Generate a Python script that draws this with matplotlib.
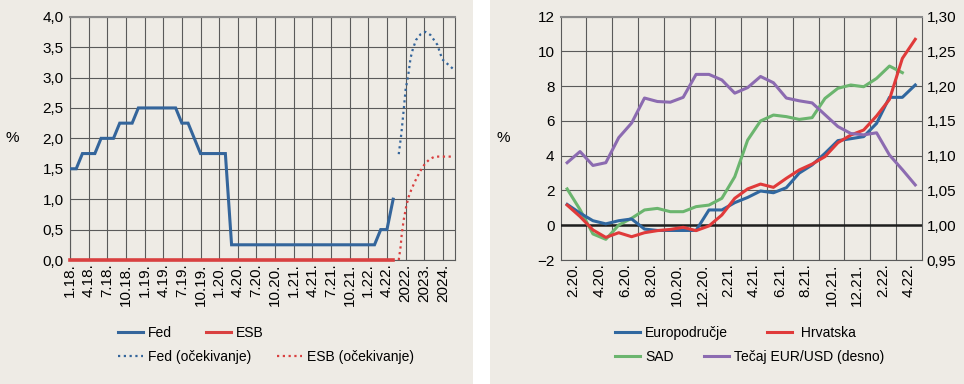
import matplotlib
matplotlib.use('Agg')
import matplotlib.pyplot as plt
from matplotlib.lines import Line2D
from matplotlib.patches import Rectangle
from matplotlib.ticker import FixedLocator, FuncFormatter

plt.rcParams['font.family'] = ['Liberation Sans', 'DejaVu Sans']

# ---------------- Left panel data (monthly, 1.18. - 5.22.) ----------------
left_tick_labels = ['1.18.', '4.18.', '7.18.', '10.18.', '1.19.', '4.19.', '7.19.', '10.19.',
                    '1.20.', '4.20.', '7.20.', '10.20.', '1.21.', '4.21.', '7.21.', '10.21.',
                    '1.22.', '4.22.', '2022.', '2023.', '2024.']
fed = [1.5, 1.5, 1.75, 1.75, 1.75, 2.0, 2.0, 2.0, 2.25, 2.25, 2.25,
       2.5, 2.5, 2.5, 2.5, 2.5, 2.5, 2.5, 2.25, 2.25, 2.0,
       1.75, 1.75, 1.75, 1.75, 1.75,
       0.25, 0.25, 0.25, 0.25, 0.25, 0.25, 0.25, 0.25, 0.25, 0.25, 0.25, 0.25,
       0.25, 0.25, 0.25, 0.25, 0.25, 0.25, 0.25, 0.25, 0.25, 0.25, 0.25, 0.25,
       0.5, 0.5, 1.0]
esb = [0.0, 0.0, 0.0, 0.0, 0.0, 0.0, 0.0, 0.0, 0.0, 0.0, 0.0, 0.0, 0.0, 0.0,
       0.0, 0.0, 0.0, 0.0, 0.0, 0.0, 0.0, 0.0, 0.0, 0.0, 0.0, 0.0, 0.0, 0.0,
       0.0, 0.0, 0.0, 0.0, 0.0, 0.0, 0.0, 0.0, 0.0, 0.0, 0.0, 0.0, 0.0, 0.0,
       0.0, 0.0, 0.0, 0.0, 0.0, 0.0, 0.0, 0.0, 0.0, 0.0, 0.0]
# expectations (position on the same month axis)
fed_exp_x = [52.9, 53.3, 53.7, 54.0, 54.4, 54.8, 55.2, 55.7, 56.4, 57.2, 58.0, 59.1, 59.9, 61.0, 62.0]
fed_exp = [1.74, 2.06, 2.47, 2.80, 3.02, 3.32, 3.48, 3.62, 3.71, 3.75, 3.70, 3.54, 3.30, 3.20, 3.11]
esb_exp_x = [52.9, 53.2, 53.4, 53.7, 54.1, 54.5, 54.9, 55.5, 56.3, 57.1, 57.9, 58.7, 61.4]
esb_exp = [0.0, 0.22, 0.44, 0.66, 0.88, 1.04, 1.15, 1.29, 1.45, 1.58, 1.66, 1.70, 1.70]

# ---------------- Right panel data (monthly) ----------------
right_tick_labels = ['2.20.', '4.20.', '6.20.', '8.20.', '10.20.', '12.20.', '2.21.',
                     '4.21.', '6.21.', '8.21.', '10.21.', '12.21.', '2.22.', '4.22.']
euro = [1.2, 0.7, 0.26, 0.08, 0.26, 0.36, -0.22, -0.3, -0.3, -0.3, -0.3, 0.88, 0.88, 1.3,
        1.6, 1.97, 1.87, 2.16, 3.0, 3.47, 4.14, 4.87, 4.98, 5.1, 5.86, 7.36, 7.36, 8.07]
hr = [1.16, 0.5, -0.27, -0.7, -0.43, -0.66, -0.43, -0.31, -0.24, -0.12, -0.31, -0.04, 0.59, 1.55,
      2.09, 2.37, 2.18, 2.7, 3.18, 3.52, 3.95, 4.75, 5.19, 5.48, 6.29, 7.24, 9.6, 10.7]
sad = [2.09, 0.9, -0.5, -0.81, 0.01, 0.4, 0.88, 0.97, 0.78, 0.78, 1.07, 1.16, 1.55, 2.79,
       4.9, 6.0, 6.34, 6.25, 6.09, 6.19, 7.3, 7.88, 8.07, 7.97, 8.45, 9.16, 8.78]
eurusd = [1.090, 1.106, 1.086, 1.090, 1.126, 1.147, 1.183, 1.178, 1.177, 1.184, 1.217, 1.217,
          1.209, 1.190, 1.198, 1.214, 1.205, 1.183, 1.179, 1.176, 1.159, 1.142, 1.132, 1.130,
          1.133, 1.101, 1.080, 1.058]

# ---------------- styling ----------------
BG = '#EEEBE5'
GRID = '#5A5A5A'
C_FED = '#34659B'
C_ESB = '#D94040'
C_EA = '#30679F'
C_HR = '#E03A3A'
C_US = '#6BB56E'
C_FX = '#8C6BB1'
FS = 11
LFS = 10
LW = 2.2
DOT = (0, (1, 1.6))

W, H = 964, 384
fig = plt.figure(figsize=(W / 100, H / 100), dpi=100)
fig.patch.set_facecolor('white')
fig.patches.append(Rectangle((0, 0), 473 / W, 1, transform=fig.transFigure,
                             facecolor=BG, edgecolor='none', zorder=-10))
fig.patches.append(Rectangle((490 / W, 0), 1 - 490 / W, 1, transform=fig.transFigure,
                             facecolor=BG, edgecolor='none', zorder=-10))


def fx(px):
    return px / W


def fy(py):
    return 1 - py / H


def comma(fmt):
    return FuncFormatter(lambda v, p: (fmt % v).replace('.', ',').replace('-', '\u2212'))


def entry(x_px, y_px, handle, label):
    fig.legend(handles=[handle], labels=[label], frameon=False, fontsize=LFS,
               loc='center left', bbox_to_anchor=(fx(x_px), fy(y_px)),
               borderpad=0, borderaxespad=0, handlelength=1.8, handletextpad=0.36)


# ---------------- Left axes ----------------
axL = fig.add_axes([fx(70), fy(260), fx(455.3) - fx(70), fy(16.7) - fy(260)])
axL.set_facecolor('none')
xL = list(range(len(fed)))
axL.plot(xL, fed, color=C_FED, lw=LW, solid_joinstyle='miter', zorder=4)
axL.plot(xL, esb, color=C_ESB, lw=LW + 0.4, zorder=4, clip_on=False)
axL.plot(fed_exp_x, fed_exp, color=C_FED, lw=1.6, ls=DOT, zorder=4)
axL.plot(esb_exp_x, esb_exp, color=C_ESB, lw=1.6, ls=DOT, zorder=4, clip_on=False)
axL.set_xlim(0, 62)
axL.set_ylim(0, 4)
axL.xaxis.set_major_locator(FixedLocator([3 * i for i in range(len(left_tick_labels))]))
axL.set_xticklabels(left_tick_labels, rotation=90)
axL.yaxis.set_major_locator(FixedLocator([0.5 * i for i in range(9)]))
axL.yaxis.set_major_formatter(comma('%.1f'))
axL.grid(True, color=GRID, lw=0.8)
axL.set_axisbelow(True)
axL.tick_params(axis='both', length=0, labelsize=FS)
axL.tick_params(axis='y', pad=4.5)
axL.tick_params(axis='x', pad=2.5)
for s in axL.spines.values():
    s.set_color(GRID)
    s.set_linewidth(0.8)
axL.spines['top'].set_color('#8A8A8A')
axL.spines['top'].set_linewidth(1.5)
fig.text(fx(12), fy(138), '%', fontsize=FS, ha='center', va='center')

entry(118, 333, Line2D([], [], color=C_FED, lw=LW), 'Fed')
entry(206, 333, Line2D([], [], color=C_ESB, lw=LW), 'ESB')
entry(118, 357, Line2D([], [], color=C_FED, lw=1.6, ls=DOT), 'Fed (očekivanje)')
entry(277, 357, Line2D([], [], color=C_ESB, lw=1.6, ls=DOT), 'ESB (očekivanje)')

# ---------------- Right axes ----------------
axR = fig.add_axes([fx(560.7), fy(260), fx(921.7) - fx(560.7), fy(16.7) - fy(260)])
axR.set_facecolor('none')
xr = list(range(len(euro)))
axR.axhline(0, color='#1E1E1E', lw=1.8, zorder=3)
axR.plot(xr, euro, color=C_EA, lw=LW, zorder=5)
axR.plot(xr, hr, color=C_HR, lw=LW, zorder=6)
axR.plot(list(range(len(sad))), sad, color=C_US, lw=LW, zorder=4)
axR.set_xlim(-0.5, len(euro) - 0.5)
axR.set_ylim(-2, 12)
axR.xaxis.set_major_locator(FixedLocator([0.5 + 2 * i for i in range(len(right_tick_labels))]))
axR.set_xticklabels(right_tick_labels, rotation=90)
axR.xaxis.set_minor_locator(FixedLocator([1.5 + 2 * i for i in range(13)]))
axR.yaxis.set_major_locator(FixedLocator([-2 + 2 * i for i in range(8)]))
axR.yaxis.set_major_formatter(comma('%d'))
axR.grid(False, axis='x', which='major')
axR.grid(True, axis='x', which='minor', color=GRID, lw=0.8)
axR.grid(True, axis='y', which='major', color=GRID, lw=0.8)
axR.set_axisbelow(True)
axR.tick_params(axis='both', which='both', length=0, labelsize=FS)
axR.tick_params(axis='y', pad=4.5)
axR.tick_params(axis='x', pad=2.5)
for s in axR.spines.values():
    s.set_color(GRID)
    s.set_linewidth(0.8)
axR.spines['top'].set_color('#8A8A8A')
axR.spines['top'].set_linewidth(1.5)

axR2 = axR.twinx()
axR2.plot(xr, eurusd, color=C_FX, lw=LW, zorder=5)
axR2.set_ylim(0.95, 1.30)
axR2.yaxis.set_major_locator(FixedLocator([0.95 + 0.05 * i for i in range(8)]))
axR2.yaxis.set_major_formatter(comma('%.2f'))
axR2.tick_params(axis='y', length=0, labelsize=FS, pad=3.6)
for s in axR2.spines.values():
    s.set_visible(False)
fig.text(fx(503), fy(138), '%', fontsize=FS, ha='center', va='center')

entry(615, 333, Line2D([], [], color=C_EA, lw=LW), 'Europodručje')
entry(767, 333, Line2D([], [], color=C_HR, lw=LW), ' Hrvatska')
entry(615, 357, Line2D([], [], color=C_US, lw=LW), 'SAD')
entry(704, 357, Line2D([], [], color=C_FX, lw=LW), 'Tečaj EUR/USD (desno)')

fig.savefig('out.png', dpi=100, facecolor=fig.get_facecolor())
